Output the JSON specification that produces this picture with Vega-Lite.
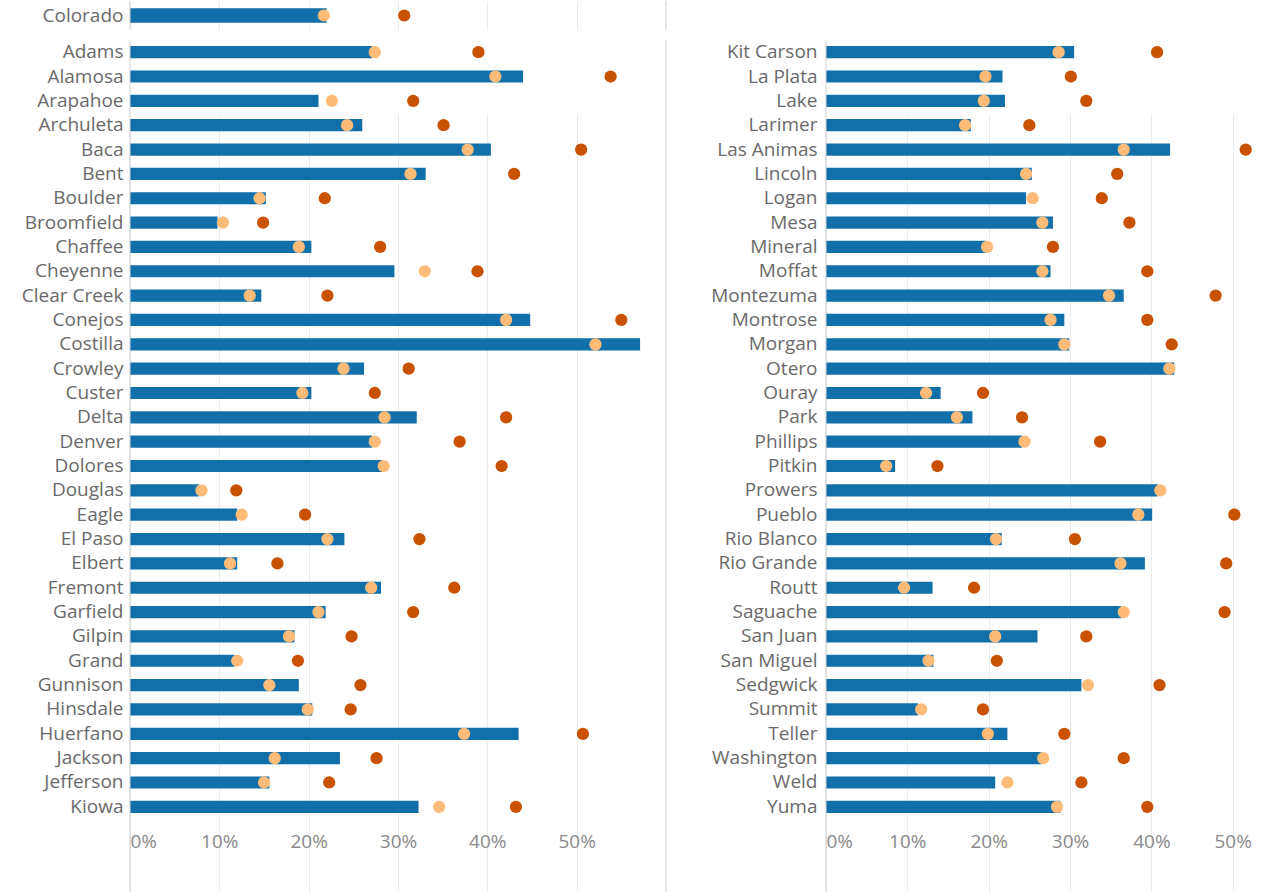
{
  "$schema": "https://vega.github.io/schema/vega-lite/v6.json",
  "padding": 0,
  "background": "white",
  "config": {
    "font": "Open Sans",
    "view": {"stroke": null},
    "axis": {"labelFont": "Open Sans", "labelFontSize": 19, "domain": false, "ticks": false, "gridColor": "#ebebeb", "gridWidth": 1},
    "axisY": {"labelColor": "#6a6a6a", "labelPadding": 7, "grid": false},
    "axisX": {"labelColor": "#8a8a8a", "labelPadding": 13, "labelFlush": true, "grid": true, "labelFontSize": 19}
  },
  "datasets": {
    "rows": [
      {"panel": "state", "county": "Colorado", "bar": 0.220, "light": 0.217, "dark": 0.307},
      {"panel": "left", "county": "Adams", "bar": 0.271, "light": 0.274, "dark": 0.390},
      {"panel": "left", "county": "Alamosa", "bar": 0.440, "light": 0.409, "dark": 0.538},
      {"panel": "left", "county": "Arapahoe", "bar": 0.211, "light": 0.226, "dark": 0.317},
      {"panel": "left", "county": "Archuleta", "bar": 0.260, "light": 0.243, "dark": 0.351},
      {"panel": "left", "county": "Baca", "bar": 0.404, "light": 0.378, "dark": 0.505},
      {"panel": "left", "county": "Bent", "bar": 0.331, "light": 0.314, "dark": 0.430},
      {"panel": "left", "county": "Boulder", "bar": 0.152, "light": 0.145, "dark": 0.218},
      {"panel": "left", "county": "Broomfield", "bar": 0.098, "light": 0.104, "dark": 0.149},
      {"panel": "left", "county": "Chaffee", "bar": 0.203, "light": 0.189, "dark": 0.280},
      {"panel": "left", "county": "Cheyenne", "bar": 0.296, "light": 0.330, "dark": 0.389},
      {"panel": "left", "county": "Clear Creek", "bar": 0.147, "light": 0.134, "dark": 0.221},
      {"panel": "left", "county": "Conejos", "bar": 0.448, "light": 0.421, "dark": 0.550},
      {"panel": "left", "county": "Costilla", "bar": 0.571, "light": 0.521, "dark": null},
      {"panel": "left", "county": "Crowley", "bar": 0.262, "light": 0.239, "dark": 0.312},
      {"panel": "left", "county": "Custer", "bar": 0.203, "light": 0.193, "dark": 0.274},
      {"panel": "left", "county": "Delta", "bar": 0.321, "light": 0.285, "dark": 0.421},
      {"panel": "left", "county": "Denver", "bar": 0.271, "light": 0.274, "dark": 0.369},
      {"panel": "left", "county": "Dolores", "bar": 0.282, "light": 0.284, "dark": 0.416},
      {"panel": "left", "county": "Douglas", "bar": 0.077, "light": 0.080, "dark": 0.119},
      {"panel": "left", "county": "Eagle", "bar": 0.120, "light": 0.125, "dark": 0.196},
      {"panel": "left", "county": "El Paso", "bar": 0.240, "light": 0.221, "dark": 0.324},
      {"panel": "left", "county": "Elbert", "bar": 0.120, "light": 0.112, "dark": 0.165},
      {"panel": "left", "county": "Fremont", "bar": 0.281, "light": 0.270, "dark": 0.363},
      {"panel": "left", "county": "Garfield", "bar": 0.219, "light": 0.211, "dark": 0.317},
      {"panel": "left", "county": "Gilpin", "bar": 0.184, "light": 0.178, "dark": 0.248},
      {"panel": "left", "county": "Grand", "bar": 0.117, "light": 0.120, "dark": 0.188},
      {"panel": "left", "county": "Gunnison", "bar": 0.189, "light": 0.156, "dark": 0.258},
      {"panel": "left", "county": "Hinsdale", "bar": 0.204, "light": 0.199, "dark": 0.247},
      {"panel": "left", "county": "Huerfano", "bar": 0.435, "light": 0.374, "dark": 0.507},
      {"panel": "left", "county": "Jackson", "bar": 0.235, "light": 0.162, "dark": 0.276},
      {"panel": "left", "county": "Jefferson", "bar": 0.156, "light": 0.150, "dark": 0.223},
      {"panel": "left", "county": "Kiowa", "bar": 0.323, "light": 0.346, "dark": 0.432},
      {"panel": "right", "county": "Kit Carson", "bar": 0.305, "light": 0.286, "dark": 0.407},
      {"panel": "right", "county": "La Plata", "bar": 0.217, "light": 0.196, "dark": 0.301},
      {"panel": "right", "county": "Lake", "bar": 0.220, "light": 0.194, "dark": 0.320},
      {"panel": "right", "county": "Larimer", "bar": 0.178, "light": 0.171, "dark": 0.250},
      {"panel": "right", "county": "Las Animas", "bar": 0.423, "light": 0.366, "dark": 0.516},
      {"panel": "right", "county": "Lincoln", "bar": 0.253, "light": 0.246, "dark": 0.358},
      {"panel": "right", "county": "Logan", "bar": 0.246, "light": 0.254, "dark": 0.339},
      {"panel": "right", "county": "Mesa", "bar": 0.279, "light": 0.266, "dark": 0.373},
      {"panel": "right", "county": "Mineral", "bar": 0.197, "light": 0.198, "dark": 0.279},
      {"panel": "right", "county": "Moffat", "bar": 0.276, "light": 0.266, "dark": 0.395},
      {"panel": "right", "county": "Montezuma", "bar": 0.366, "light": 0.348, "dark": 0.479},
      {"panel": "right", "county": "Montrose", "bar": 0.293, "light": 0.276, "dark": 0.395},
      {"panel": "right", "county": "Morgan", "bar": 0.299, "light": 0.293, "dark": 0.425},
      {"panel": "right", "county": "Otero", "bar": 0.428, "light": 0.422, "dark": null},
      {"panel": "right", "county": "Ouray", "bar": 0.141, "light": 0.123, "dark": 0.193},
      {"panel": "right", "county": "Park", "bar": 0.180, "light": 0.161, "dark": 0.241},
      {"panel": "right", "county": "Phillips", "bar": 0.241, "light": 0.244, "dark": 0.337},
      {"panel": "right", "county": "Pitkin", "bar": 0.085, "light": 0.074, "dark": 0.137},
      {"panel": "right", "county": "Prowers", "bar": 0.408, "light": 0.411, "dark": null},
      {"panel": "right", "county": "Pueblo", "bar": 0.401, "light": 0.384, "dark": 0.502},
      {"panel": "right", "county": "Rio Blanco", "bar": 0.216, "light": 0.209, "dark": 0.306},
      {"panel": "right", "county": "Rio Grande", "bar": 0.392, "light": 0.362, "dark": 0.492},
      {"panel": "right", "county": "Routt", "bar": 0.131, "light": 0.096, "dark": 0.182},
      {"panel": "right", "county": "Saguache", "bar": 0.363, "light": 0.366, "dark": 0.490},
      {"panel": "right", "county": "San Juan", "bar": 0.260, "light": 0.208, "dark": 0.320},
      {"panel": "right", "county": "San Miguel", "bar": 0.132, "light": 0.126, "dark": 0.210},
      {"panel": "right", "county": "Sedgwick", "bar": 0.314, "light": 0.322, "dark": 0.410},
      {"panel": "right", "county": "Summit", "bar": 0.113, "light": 0.117, "dark": 0.193},
      {"panel": "right", "county": "Teller", "bar": 0.223, "light": 0.199, "dark": 0.293},
      {"panel": "right", "county": "Washington", "bar": 0.265, "light": 0.267, "dark": 0.366},
      {"panel": "right", "county": "Weld", "bar": 0.208, "light": 0.223, "dark": 0.314},
      {"panel": "right", "county": "Yuma", "bar": 0.288, "light": 0.284, "dark": 0.395}
    ]
  },
  "bounds": "flush",
  "spacing": 10,
  "vconcat": [
    {
      "width": 536,
      "height": 29,
      "data": {"name": "rows"},
      "transform": [{"filter": "datum.panel === 'state'"}],
      "layer": [
        {
          "mark": {"type": "bar", "color": "#1170aa"},
          "encoding": {
            "y": {"field": "county", "type": "nominal", "sort": null, "title": null,
                  "scale": {"paddingInner": 0.5, "paddingOuter": 0.25},
                  "axis": {"minExtent": 130, "maxExtent": 130}},
            "x": {"field": "bar", "type": "quantitative", "title": null,
                  "scale": {"domain": [0, 0.6], "nice": false, "zero": true},
                  "axis": {"labels": false, "values": [0, 0.1, 0.2, 0.3, 0.4, 0.5], "grid": true}}
          }
        },
        {
          "mark": {"type": "circle", "size": 150, "opacity": 1, "color": "#c85200"},
          "encoding": {
            "y": {"field": "county", "type": "nominal", "sort": null},
            "x": {"field": "dark", "type": "quantitative"}
          }
        },
        {
          "mark": {"type": "circle", "size": 150, "opacity": 1, "color": "#ffbc79"},
          "encoding": {
            "y": {"field": "county", "type": "nominal", "sort": null},
            "x": {"field": "light", "type": "quantitative"}
          }
        },
        {
          "data": {"values": [{}]},
          "mark": {"type": "rule", "color": "#d0d0d0", "strokeWidth": 1},
          "encoding": {"x": {"datum": 0}}
        },
        {
          "data": {"values": [{}]},
          "mark": {"type": "rule", "color": "#d0d0d0", "strokeWidth": 1},
          "encoding": {"x": {"datum": 0.6}}
        }
      ]
    },
    {
      "bounds": "flush",
      "spacing": 160,
      "hconcat": [
        {
          "width": 536,
          "height": 853,
          "data": {"name": "rows"},
          "transform": [{"filter": "datum.panel === 'left'"}],
          "layer": [
            {
              "mark": {"type": "bar", "color": "#1170aa"},
              "encoding": {
                "y": {"field": "county", "type": "nominal", "sort": null, "title": null,
                      "scale": {"range": [0, 779], "paddingInner": 0.5, "paddingOuter": 0.25},
                      "axis": {"minExtent": 130, "maxExtent": 130}},
                "x": {"field": "bar", "type": "quantitative", "title": null,
                      "scale": {"domain": [0, 0.6], "nice": false, "zero": true},
                      "axis": {"values": [0, 0.1, 0.2, 0.3, 0.4, 0.5], "format": ".0%", "offset": -74}}
              }
            },
            {
              "mark": {"type": "circle", "size": 150, "opacity": 1, "color": "#c85200"},
              "encoding": {
                "y": {"field": "county", "type": "nominal", "sort": null},
                "x": {"field": "dark", "type": "quantitative"}
              }
            },
            {
              "mark": {"type": "circle", "size": 150, "opacity": 1, "color": "#ffbc79"},
              "encoding": {
                "y": {"field": "county", "type": "nominal", "sort": null},
                "x": {"field": "light", "type": "quantitative"}
              }
            },
            {
              "data": {"values": [{}]},
              "mark": {"type": "rule", "color": "#d0d0d0", "strokeWidth": 1},
              "encoding": {"x": {"datum": 0}}
            },
            {
              "data": {"values": [{}]},
              "mark": {"type": "rule", "color": "#d0d0d0", "strokeWidth": 1},
              "encoding": {"x": {"datum": 0.6}}
            }
          ]
        },
        {
          "width": 436,
          "height": 853,
          "data": {"name": "rows"},
          "transform": [{"filter": "datum.panel === 'right'"}],
          "layer": [
            {
              "mark": {"type": "bar", "color": "#1170aa"},
              "encoding": {
                "y": {"field": "county", "type": "nominal", "sort": null, "title": null,
                      "scale": {"range": [0, 779], "paddingInner": 0.5, "paddingOuter": 0.25},
                      "axis": {"labelPadding": 9}},
                "x": {"field": "bar", "type": "quantitative", "title": null,
                      "scale": {"domain": [0, 0.536], "nice": false, "zero": true},
                      "axis": {"values": [0, 0.1, 0.2, 0.3, 0.4, 0.5], "format": ".0%", "offset": -74}}
              }
            },
            {
              "mark": {"type": "circle", "size": 150, "opacity": 1, "color": "#c85200"},
              "encoding": {
                "y": {"field": "county", "type": "nominal", "sort": null},
                "x": {"field": "dark", "type": "quantitative"}
              }
            },
            {
              "mark": {"type": "circle", "size": 150, "opacity": 1, "color": "#ffbc79"},
              "encoding": {
                "y": {"field": "county", "type": "nominal", "sort": null},
                "x": {"field": "light", "type": "quantitative"}
              }
            },
            {
              "data": {"values": [{}]},
              "mark": {"type": "rule", "color": "#d0d0d0", "strokeWidth": 1},
              "encoding": {"x": {"datum": 0}}
            }
          ]
        }
      ]
    }
  ]
}
